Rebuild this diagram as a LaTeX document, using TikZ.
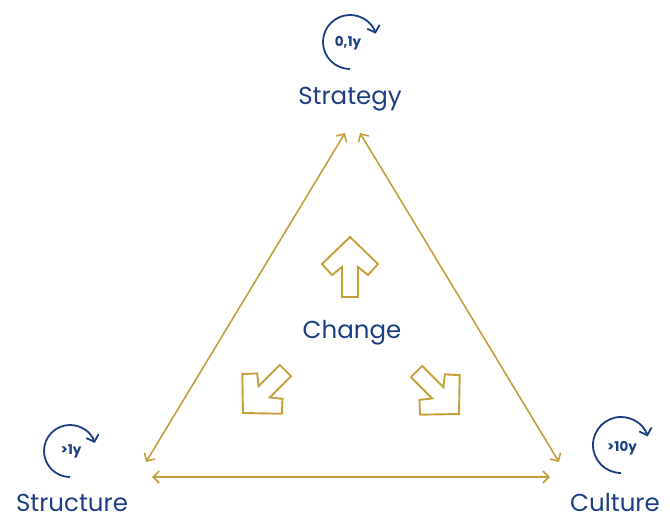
\documentclass[tikz,border=0pt]{standalone}
\usepackage{fontspec}
\setmainfont{Poppins}
\usetikzlibrary{arrows.meta}

\definecolor{navy}{RGB}{28,62,132}
\definecolor{gold}{RGB}{197,160,58}

\tikzset{
  edge/.style={draw=gold, line width=1.6pt, {Straight Barb[length=6pt,width=12pt]}-{Straight Barb[length=6pt,width=12pt]}},
  cycle arrow/.style={draw=navy, line width=1.8pt, -{Straight Barb[length=6pt,width=13pt]}},
  block arrow/.style={draw=gold, line width=1.9pt, fill=white, line join=miter},
  label/.style={text=navy, inner sep=0pt, font=\fontsize{24.5}{26}\selectfont},
  span/.style={text=navy, inner sep=1pt, font=\fontsize{13.5}{15}\selectfont\bfseries},
}

\newcommand{\blockarrow}{(0,0) -- (28,27) -- (18,38) -- (8,30) -- (8,60) -- (-8,60) -- (-8,30) -- (-18,38) -- (-28,27) -- cycle}

\begin{document}
\begin{tikzpicture}[x=1pt,y=1pt,yscale=-1,xscale=1]
\useasboundingbox (0,0) rectangle (670,519);

%Corner labels
\node[label] (strategy) at (350,99) {Strategy};
\node[label] (structure) at (72,503) {Structure};
\node[label] (culture) at (615,503) {Culture};
\node[label] (change) at (352,333) {Change};

%Time spans
\node[span] (t-strategy) at (348,43) {0,1y};
\node[span] (t-structure) at (71,451) {>1y};
\node[span] (t-culture) at (622,448) {>10y};

%Cycle arrows
\draw[cycle arrow] (350,42) ++(90:27) arc[start angle=90, end angle=342, radius=27];
\draw[cycle arrow] (70,451) ++(90:26) arc[start angle=90, end angle=342, radius=26];
\draw[cycle arrow] (621,445) ++(90:28) arc[start angle=90, end angle=342, radius=28];

%Triangle ends
\coordinate (top-l) at (345,133);
\coordinate (top-r) at (360,133);
\coordinate (left-t) at (146,462);
\coordinate (right-t) at (559,462);
\coordinate (left-b) at (152,477);
\coordinate (right-b) at (550,477);

%Triangle
\draw[edge] (top-l) -- (left-t);
\draw[edge] (top-r) -- (right-t);
\draw[edge] (left-b) -- (right-b);

%Change arrows
\draw[block arrow, shift={(350,237)}] \blockarrow;
\draw[block arrow, shift={(243,413)}, rotate=225] \blockarrow;
\draw[block arrow, shift={(459,414)}, rotate=135] \blockarrow;

\end{tikzpicture}
\end{document}
